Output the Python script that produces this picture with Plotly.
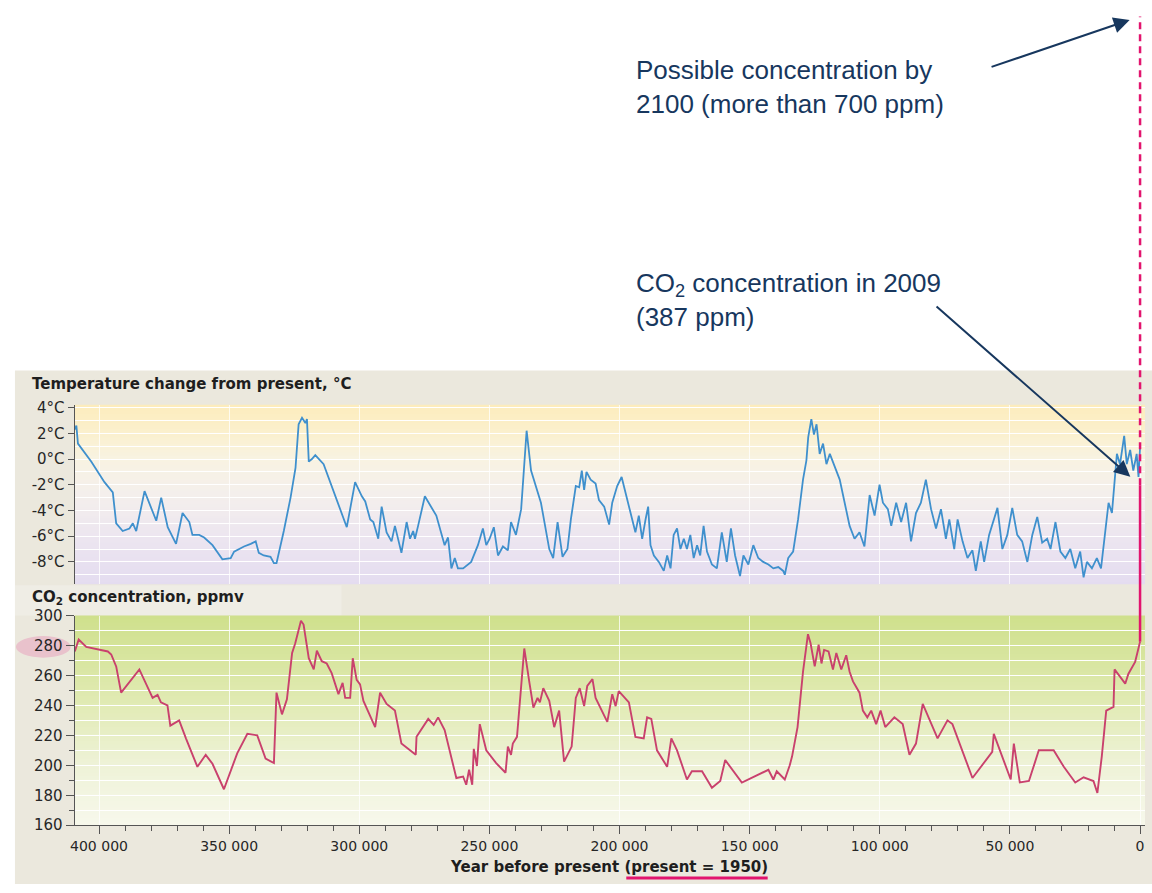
import plotly.graph_objects as go

# ---------------------------------------------------------------------------
# Vostok ice-core record, thousands of years before present (present = 1950)
# ---------------------------------------------------------------------------
temp_kyr = [
    409.3, 408.7, 408.1, 403.0, 397.9, 394.7, 393.4, 390.9, 388.3, 387.0,
    385.7, 382.5, 378.0, 376.1, 373.6, 370.4, 367.9, 365.3, 364.1, 361.5,
    359.6, 356.4, 352.6, 349.4, 348.1, 344.3, 341.7, 339.8, 338.6, 336.7,
    334.1, 332.8, 331.8, 329.0, 326.4, 324.5, 323.3, 322.0, 320.7, 320.1,
    319.4, 318.2, 316.9, 313.7, 304.8, 301.6, 299.0, 297.7, 295.8, 294.6,
    292.7, 291.4, 289.5, 287.6, 286.3, 283.8, 281.8, 280.5, 279.3, 278.6,
    277.4, 274.8, 270.4, 268.5, 267.2, 265.9, 264.6, 263.3, 262.1, 260.1,
    257.0, 254.4, 252.5, 251.2, 249.9, 248.3, 246.7, 244.8, 242.9, 241.7,
    239.8, 237.8, 235.7, 234.0, 230.2, 227.0, 225.5, 223.8, 221.9, 220.0,
    218.7, 216.8, 215.5, 214.5, 213.6, 212.7, 211.1, 209.2, 207.9, 205.9,
    204.0, 202.8, 200.9, 199.2, 197.7, 195.1, 193.9, 192.6, 191.3, 190.0,
    189.0, 188.1, 186.8, 184.9, 183.0, 181.7, 180.4, 179.2, 177.9, 176.6,
    175.3, 174.1, 172.8, 171.5, 170.2, 169.0, 167.7, 166.4, 164.5, 162.6,
    160.7, 158.8, 157.2, 155.6, 153.7, 152.4, 150.5, 148.6, 146.7, 144.8,
    142.8, 140.9, 139.0, 137.1, 136.5, 135.2, 133.3, 131.4, 129.5, 128.2,
    127.5, 126.3, 125.3, 124.3, 123.1, 121.8, 120.5, 119.2, 117.3, 115.4,
    113.5, 111.6, 109.7, 107.8, 105.9, 103.9, 102.0, 100.1, 98.8, 96.9,
    95.6, 93.7, 91.8, 89.9, 88.0, 86.1, 84.2, 82.3, 80.3, 78.4,
    76.5, 74.6, 73.3, 71.4, 70.1, 68.2, 66.3, 64.4, 63.1, 61.2,
    59.9, 58.0, 54.8, 52.9, 51.0, 49.1, 47.2, 45.3, 43.3, 41.4,
    39.5, 37.6, 35.7, 34.4, 32.5, 30.6, 28.7, 26.8, 24.9, 23.0,
    21.7, 20.4, 18.5, 16.6, 15.0, 13.4, 12.1, 10.8, 9.6, 8.9,
    7.7, 6.1, 5.1, 3.8, 2.6, 1.3, 0.6, 0.0,
]
temp_c = [
    2.3, 2.6, 1.2, -0.2, -1.8, -2.6, -5.0, -5.6, -5.4, -5.0,
    -5.6, -2.5, -4.8, -3.0, -5.3, -6.6, -4.2, -4.9, -5.9, -5.9,
    -6.1, -6.7, -7.8, -7.7, -7.2, -6.8, -6.6, -6.4, -7.3, -7.5,
    -7.6, -8.1, -8.1, -5.6, -3.0, -0.7, 2.7, 3.2, 2.8, 3.1,
    -0.2, 0.0, 0.3, -0.4, -5.3, -1.8, -2.9, -3.3, -4.7, -4.9,
    -6.2, -3.7, -5.7, -6.4, -5.2, -7.3, -4.9, -6.2, -5.6, -6.2,
    -5.2, -2.9, -4.4, -5.9, -6.7, -6.1, -8.5, -7.7, -8.5, -8.5,
    -8.0, -6.7, -5.4, -6.7, -6.2, -5.3, -7.5, -6.8, -7.1, -4.9,
    -5.9, -3.9, 2.2, -0.9, -3.4, -7.0, -7.7, -4.9, -7.6, -7.0,
    -4.7, -2.1, -2.2, -0.9, -2.4, -1.0, -1.6, -1.9, -3.2, -3.7,
    -5.1, -3.4, -2.1, -1.4, -2.6, -4.9, -5.7, -4.4, -6.2, -4.7,
    -3.7, -6.7, -7.5, -8.0, -8.7, -7.5, -8.5, -5.9, -5.4, -7.0,
    -6.2, -7.0, -5.9, -7.7, -6.7, -7.5, -5.2, -7.2, -8.2, -8.5,
    -5.7, -8.0, -5.4, -7.5, -9.1, -7.5, -8.2, -6.7, -7.7, -8.0,
    -8.2, -8.5, -8.4, -8.7, -9.0, -7.7, -7.2, -4.7, -1.6, -0.1,
    1.7, 3.1, 1.9, 2.7, 0.4, 1.2, -0.4, 0.4, -0.6, -1.6,
    -3.4, -5.2, -6.2, -5.7, -6.8, -2.8, -4.4, -2.0, -3.4, -3.9,
    -5.2, -3.4, -4.9, -3.4, -6.4, -4.2, -3.4, -1.6, -3.9, -5.4,
    -3.9, -6.2, -4.7, -7.0, -4.7, -6.4, -7.7, -7.1, -8.7, -6.4,
    -8.0, -5.9, -3.8, -7.0, -5.9, -3.8, -5.9, -6.4, -8.0, -5.9,
    -4.5, -6.5, -6.2, -7.0, -4.9, -7.2, -7.7, -7.0, -8.5, -7.2,
    -9.2, -8.0, -8.5, -7.7, -8.5, -5.9, -3.4, -4.2, -0.9, 0.4,
    -0.4, 1.8, -0.4, 0.7, -0.9, 0.4, -1.4, 0.9,
]

co2_kyr = [
    409.3, 407.8, 404.9, 401.7, 396.6, 395.3, 393.4, 391.5, 384.5, 379.4,
    377.5, 376.2, 373.7, 372.6, 369.2, 366.6, 362.2, 359.0, 356.4, 352.0,
    346.9, 343.0, 339.2, 336.0, 332.8, 331.8, 329.7, 327.8, 325.8, 324.6,
    322.4, 321.4, 319.4, 317.5, 316.3, 314.4, 312.5, 310.6, 308.0, 306.4,
    305.4, 303.5, 302.5, 301.0, 299.7, 298.4, 293.9, 292.0, 289.5, 286.3,
    283.8, 278.3, 278.0, 273.5, 271.4, 269.7, 267.2, 262.7, 260.1, 258.9,
    257.8, 256.6, 256.0, 254.8, 253.7, 251.2, 247.4, 243.8, 242.9, 241.7,
    241.0, 239.4, 236.6, 234.7, 233.1, 231.5, 230.6, 229.3, 227.0, 225.1,
    223.2, 221.3, 218.4, 216.8, 215.3, 213.6, 212.4, 210.4, 209.2, 204.7,
    202.8, 201.5, 200.3, 196.4, 193.9, 190.7, 189.4, 187.8, 185.6, 181.7,
    180.1, 177.9, 174.1, 172.2, 168.3, 164.5, 161.3, 159.4, 153.0, 142.8,
    140.9, 139.6, 136.5, 134.6, 133.7, 131.6, 129.5, 127.6, 126.6, 125.0,
    123.5, 122.4, 121.4, 119.7, 118.0, 116.7, 114.8, 112.9, 111.6, 110.3,
    107.8, 106.5, 104.8, 103.3, 101.4, 99.7, 97.9, 94.4, 91.2, 88.6,
    86.1, 83.5, 77.8, 74.0, 72.1, 64.4, 56.8, 56.2, 49.7, 48.5,
    46.2, 42.7, 38.9, 33.2, 29.3, 24.9, 21.7, 17.9, 16.4, 14.7,
    13.0, 10.2, 9.8, 5.7, 4.5, 1.9, 0.0,
]
co2_ppmv = [
    276, 284, 279, 278, 276, 274, 266, 248.5, 264, 245,
    247, 242, 240, 226.5, 230, 218, 199, 207, 201, 184,
    208, 221, 220, 204.5, 201.5, 248.5, 234, 244, 275, 281.5,
    296.5, 294, 271.5, 264, 276.5, 269.5, 268, 261.5, 247.5, 255,
    245, 245, 271.5, 257, 254, 243, 225.5, 248.5, 241, 236.5,
    214.5, 207, 219, 231, 227, 232, 223.5, 191.5, 192.5, 187,
    197, 187, 211, 199.5, 227.5, 210, 201.5, 195, 212.5, 207,
    214.5, 219, 278, 256, 238.5, 245, 242, 251.5, 243, 225.5,
    236.5, 202.5, 212.5, 245, 251.5, 239.5, 253, 257.5, 245, 229,
    247.5, 239.5, 249.5, 242, 219, 218, 232, 231, 210, 199,
    218, 210, 190.5, 196, 196, 185, 189.5, 203.5, 188.5, 197,
    190.5, 196, 190.5, 200, 206, 225.5, 262.5, 287.5, 281.5, 266,
    280.5, 268, 277, 276, 264, 275, 264, 273.5, 262.5, 256,
    248.5, 236.5, 232, 236.5, 227.5, 236.5, 225.5, 232, 227.5, 207,
    214.5, 241, 218, 230, 227.5, 191.5, 209, 221, 190.5, 214.5,
    188.5, 189.5, 210, 210, 199, 188.5, 192, 189.5, 181.5, 206,
    236.5, 239, 264, 254.5, 261, 269, 282.5,
]

# Modern and projected concentrations (ppm)
co2_2009 = 387
co2_2100 = 700

# Axis ticks
year_ticks = [400000, 350000, 300000, 250000, 200000, 150000, 100000, 50000, 0]
temp_ticks = [-8, -6, -4, -2, 0, 2, 4]
temp_tick_text = [f"{v}°C" for v in temp_ticks]
co2_ticks = [160, 180, 200, 220, 240, 260, 280, 300]

# ---------------------------------------------------------------------------
# Page geometry (pixels on a 1152 x 893 page -> paper fractions)
# ---------------------------------------------------------------------------
W, H = 1152, 893


def fx(p):
    return p / W


def fy(p):
    return 1 - p / H


X_DOM = [fx(70), fx(1145)]
T_DOM = [fy(587), fy(404)]
C_DOM = [fy(833), fy(619)]
X_RANGE = [409340, -1910]
T_RANGE = [-9.73, 4.21]
C_RANGE = [160, 300]

# A full-height axis on the same ppm scale as the CO2 panel, so the
# modern rise can be drawn far above the panel.
_slope = (C_RANGE[1] - C_RANGE[0]) / (C_DOM[1] - C_DOM[0])
Y3_RANGE = [C_RANGE[0] - C_DOM[0] * _slope, C_RANGE[0] + (1 - C_DOM[0]) * _slope]

AX_FONT = "DejaVu Sans"
NOTE_FONT = "Liberation Sans, Arial, sans-serif"
NAVY = "#17375e"
MAGENTA = "#e2146e"
AXIS_GREY = "#555555"

temp_years = [k * 1000 for k in temp_kyr]
co2_years = [k * 1000 for k in co2_kyr]

fig = go.Figure()

fig.add_trace(go.Scatter(
    x=temp_years, y=temp_c, xaxis="x", yaxis="y", mode="lines",
    line=dict(color="#3f90cd", width=1.8), hoverinfo="skip", showlegend=False,
))
fig.add_trace(go.Scatter(
    x=co2_years, y=co2_ppmv, xaxis="x2", yaxis="y2", mode="lines",
    line=dict(color="#c9416d", width=1.9), hoverinfo="skip", showlegend=False,
))
# Rise from the last ice-core value to 2009, then the 2100 projection
fig.add_trace(go.Scatter(
    x=[0, 0], y=[co2_ppmv[-1], co2_2009], xaxis="x3", yaxis="y3", mode="lines",
    line=dict(color=MAGENTA, width=2.5), hoverinfo="skip", showlegend=False,
))
fig.add_trace(go.Scatter(
    x=[0, 0], y=[co2_2009, co2_2100], xaxis="x3", yaxis="y3", mode="lines",
    line=dict(color=MAGENTA, width=2.5, dash="7px,5px"), hoverinfo="skip",
    showlegend=False,
))


def lerp_color(stops, t):
    for (t0, c0), (t1, c1) in zip(stops, stops[1:]):
        if t0 <= t <= t1:
            u = (t - t0) / (t1 - t0) if t1 > t0 else 0
            r, g, b = (round(a + (b_ - a) * u) for a, b_ in zip(c0, c1))
            return f"rgb({r},{g},{b})"
    r, g, b = stops[-1][1]
    return f"rgb({r},{g},{b})"


def gradient_bands(xref, yref, stops, n=60):
    out = []
    for i in range(n):
        y0 = i / n
        y1 = min(1.0, (i + 1) / n + 0.004)
        out.append(dict(
            type="rect", xref=xref, yref=yref, x0=0, x1=1, y0=y0, y1=y1,
            fillcolor=lerp_color(stops, (i + 0.5) / n), line=dict(width=0),
            layer="below",
        ))
    return out


temp_bg = [
    (0.0, (228, 220, 240)), (0.25, (236, 229, 240)), (0.5, (244, 239, 236)),
    (0.7, (248, 243, 226)), (0.85, (251, 240, 205)), (1.0, (252, 236, 188)),
]
co2_bg = [
    (0.0, (247, 248, 236)), (0.3, (238, 242, 214)), (0.6, (224, 234, 178)),
    (1.0, (207, 224, 140)),
]

shapes = [
    # beige board behind both panels
    dict(type="rect", xref="paper", yref="paper", x0=fx(10), x1=1, y0=0, y1=fy(369),
         fillcolor="#ebe8dd", line=dict(width=0), layer="below"),
    # lighter strip behind the CO2 heading
    dict(type="rect", xref="paper", yref="paper", x0=fx(10), x1=fx(338), y0=fy(619), y1=fy(588),
         fillcolor="#efede5", line=dict(width=0), layer="below"),
    # highlight behind the 280 ppm label
    dict(type="circle", xref="paper", yref="paper", x0=fx(11), x1=fx(66), y0=fy(662), y1=fy(640),
         fillcolor="#e9c2cc", line=dict(width=0), layer="below"),
]
shapes += gradient_bands("x domain", "y domain", temp_bg)
shapes += gradient_bands("x2 domain", "y2 domain", co2_bg)
# underline for "(present = 1950)"
shapes.append(dict(type="line", xref="paper", yref="paper", x0=fx(624), x1=fx(766),
                   y0=fy(887), y1=fy(887), line=dict(color=MAGENTA, width=3)))


def note(text, y_px):
    return dict(text=text, xref="paper", yref="paper", x=fx(632), y=fy(y_px),
                xanchor="left", yanchor="middle", align="left", showarrow=False,
                font=dict(family=NOTE_FONT, size=26, color=NAVY))


annotations = [
    dict(text="<b>Temperature change from present, °C</b>", xref="paper", yref="paper",
         x=fx(25), y=fy(383), xanchor="left", yanchor="middle", showarrow=False,
         font=dict(family=AX_FONT, size=15, color="#1e1e1e")),
    dict(text="<b>CO<sub>2</sub> concentration, ppmv</b>", xref="paper", yref="paper",
         x=fx(25), y=fy(601), xanchor="left", yanchor="middle", showarrow=False,
         font=dict(family=AX_FONT, size=15, color="#1e1e1e")),
    dict(text="<b>Year before present (present = 1950)</b>", xref="paper", yref="paper",
         x=fx(607), y=fy(876), xanchor="center", yanchor="middle", showarrow=False,
         font=dict(family=AX_FONT, size=15, color="#1e1e1e")),
    note("Possible concentration by<br>2100 (more than 700 ppm)", 80),
    note("CO<sub>2</sub> concentration in 2009<br>(387 ppm)", 297),
    # arrows to the projected and the 2009 values
    dict(text="", xref="x3", yref="y3", x=0, y=co2_2100, ax=-150, ay=51,
         showarrow=True, arrowhead=2, arrowsize=1.6, arrowwidth=2, arrowcolor=NAVY, standoff=11),
    dict(text="", xref="x3", yref="y3", x=0, y=co2_2009, ax=-205, ay=-180,
         showarrow=True, arrowhead=2, arrowsize=1.6, arrowwidth=2, arrowcolor=NAVY, standoff=13),
]

tick_font = dict(family=AX_FONT, size=15, color="#262626")

fig.update_layout(
    width=W, height=H,
    margin=dict(l=0, r=0, t=0, b=0),
    paper_bgcolor="white",
    plot_bgcolor="rgba(0,0,0,0)",
    separators=". ",
    showlegend=False,
    shapes=shapes,
    annotations=annotations,
    xaxis=dict(
        domain=X_DOM, range=X_RANGE, anchor="y", tickmode="array", tickvals=year_ticks,
        showticklabels=False, ticks="", showline=False, zeroline=False,
        showgrid=True, gridcolor="rgba(255,255,255,0.75)", gridwidth=1,
    ),
    yaxis=dict(
        domain=T_DOM, range=T_RANGE, anchor="x", tickmode="array",
        tickvals=temp_ticks, ticktext=temp_tick_text, tickfont=tick_font,
        ticks="outside", ticklen=6, tickcolor=AXIS_GREY, tickwidth=1,
        showline=True, linecolor=AXIS_GREY, linewidth=1.2, zeroline=False,
        showgrid=True, gridcolor="white", gridwidth=1,
        minor=dict(dtick=1, tick0=0, ticks="", showgrid=True, gridcolor="white", gridwidth=1),
    ),
    xaxis2=dict(
        domain=X_DOM, range=X_RANGE, anchor="y2", tickmode="array", tickvals=year_ticks,
        tickformat=",d", tickfont=dict(family=AX_FONT, size=14, color="#262626"),
        ticks="outside", ticklen=8, tickcolor=AXIS_GREY, tickwidth=1,
        showline=True, linecolor=AXIS_GREY, linewidth=1.2, zeroline=False,
        showgrid=True, gridcolor="rgba(255,255,255,0.75)", gridwidth=1,
        minor=dict(dtick=10000, tick0=0, ticks="outside", ticklen=5,
                   tickcolor=AXIS_GREY, showgrid=False),
    ),
    yaxis2=dict(
        domain=C_DOM, range=C_RANGE, anchor="x2", tickmode="array", tickvals=co2_ticks,
        tickfont=tick_font, ticks="outside", ticklen=8, tickcolor=AXIS_GREY, tickwidth=1,
        showline=True, linecolor=AXIS_GREY, linewidth=1.2, zeroline=False,
        showgrid=True, gridcolor="white", gridwidth=1,
        minor=dict(dtick=10, tick0=0, ticks="outside", ticklen=5, tickcolor=AXIS_GREY,
                   showgrid=True, gridcolor="white", gridwidth=1),
    ),
    xaxis3=dict(domain=X_DOM, range=X_RANGE, anchor="y3", visible=False),
    yaxis3=dict(domain=[0, 1], range=Y3_RANGE, anchor="x3", visible=False),
)

fig.write_html("out.html")
